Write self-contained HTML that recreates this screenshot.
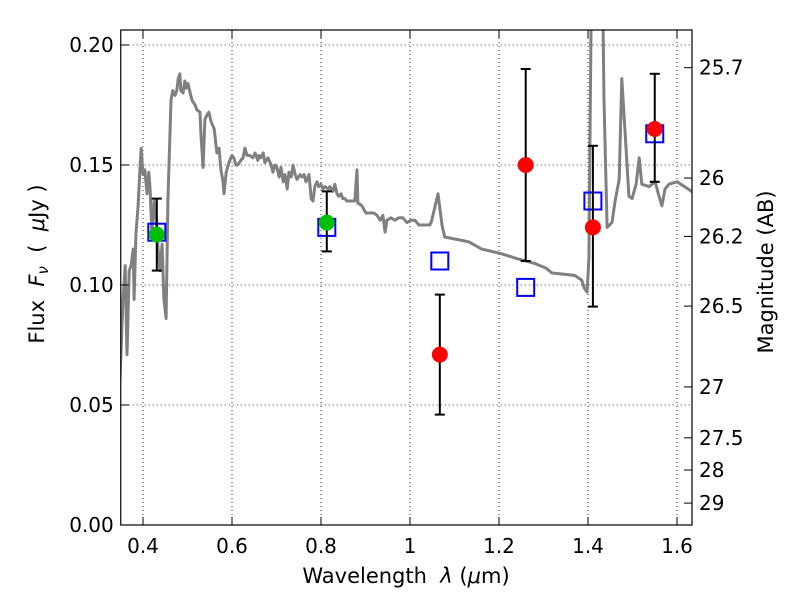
<!DOCTYPE html>
<html><head><meta charset="utf-8"><style>
body{margin:0;background:#fff;}
svg text{font-family:"DejaVu Sans","Liberation Sans",sans-serif;font-size:20px;fill:#000;}
.ttl{white-space:pre;font-size:21px;}
</style></head><body>
<svg id="chart" width="800" height="600" xmlns="http://www.w3.org/2000/svg"></svg>
<script>
const specLam=[0.348,0.355,0.360,0.364,0.369,0.373,0.378,0.380,0.384,0.389,0.393,0.396,0.400,0.404,0.409,0.413,0.416,0.420,0.425,0.429,0.434,0.438,0.443,0.447,0.452,0.456,0.463,0.467,0.472,0.476,0.479,0.483,0.485,0.490,0.494,0.497,0.501,0.506,0.510,0.517,0.521,0.528,0.530,0.535,0.539,0.544,0.548,0.553,0.560,0.566,0.571,0.575,0.580,0.582,0.587,0.593,0.600,0.604,0.609,0.613,0.620,0.625,0.629,0.634,0.640,0.647,0.652,0.658,0.661,0.665,0.670,0.674,0.681,0.688,0.692,0.697,0.701,0.706,0.710,0.715,0.719,0.724,0.728,0.733,0.737,0.742,0.746,0.753,0.757,0.762,0.766,0.773,0.778,0.782,0.786,0.791,0.795,0.800,0.804,0.809,0.816,0.820,0.827,0.831,0.836,0.840,0.845,0.849,0.854,0.858,0.867,0.876,0.881,0.883,0.885,0.892,0.901,0.910,0.919,0.926,0.933,0.939,0.944,0.948,0.957,0.966,0.975,0.984,0.993,1.002,1.011,1.020,1.029,1.038,1.045,1.049,1.063,1.072,1.078,1.105,1.132,1.161,1.206,1.240,1.280,1.306,1.319,1.370,1.386,1.391,1.398,1.402,1.404,1.409,1.431,1.436,1.443,1.454,1.461,1.470,1.476,1.483,1.492,1.499,1.508,1.515,1.521,1.537,1.551,1.558,1.566,1.573,1.582,1.600,1.625,1.641];
const specFlux=[0.060,0.094,0.108,0.071,0.106,0.108,0.115,0.094,0.121,0.133,0.148,0.157,0.146,0.148,0.138,0.147,0.140,0.121,0.135,0.129,0.115,0.106,0.117,0.094,0.086,0.135,0.177,0.181,0.179,0.181,0.186,0.188,0.181,0.180,0.185,0.182,0.184,0.180,0.177,0.175,0.173,0.172,0.163,0.149,0.169,0.171,0.172,0.168,0.165,0.155,0.157,0.148,0.143,0.138,0.147,0.151,0.154,0.153,0.150,0.150,0.152,0.153,0.157,0.154,0.154,0.153,0.155,0.152,0.154,0.153,0.155,0.151,0.153,0.150,0.147,0.150,0.149,0.145,0.149,0.143,0.146,0.140,0.147,0.145,0.150,0.146,0.144,0.146,0.145,0.146,0.143,0.146,0.136,0.135,0.141,0.143,0.141,0.142,0.140,0.141,0.140,0.141,0.139,0.142,0.138,0.137,0.138,0.136,0.136,0.135,0.135,0.135,0.148,0.134,0.134,0.133,0.130,0.130,0.130,0.129,0.127,0.129,0.122,0.127,0.128,0.127,0.128,0.128,0.126,0.127,0.127,0.125,0.125,0.125,0.125,0.127,0.138,0.125,0.120,0.119,0.118,0.115,0.113,0.111,0.109,0.107,0.105,0.104,0.102,0.099,0.097,0.111,0.153,0.25,0.25,0.177,0.124,0.126,0.135,0.144,0.186,0.165,0.137,0.136,0.142,0.153,0.142,0.141,0.143,0.138,0.133,0.140,0.142,0.143,0.140,0.138];
const greenLam=[0.431,0.813], greenFlux=[0.121,0.126], greenLo=[0.106,0.114], greenHi=[0.136,0.139];
const redLam=[1.067,1.260,1.411,1.550], redFlux=[0.071,0.150,0.124,0.165], redLo=[0.046,0.110,0.091,0.143], redHi=[0.096,0.190,0.158,0.188];
const modelLam=[0.431,0.813,1.067,1.260,1.411,1.550], modelFlux=[0.122,0.124,0.110,0.099,0.135,0.163];
const xTicks=[0.4,0.6,0.8,1.0,1.2,1.4,1.6], xTickLabels=["0.4","0.6","0.8","1","1.2","1.4","1.6"];
const yTicks=[0,0.05,0.10,0.15,0.20], yTickLabels=["0.00","0.05","0.10","0.15","0.20"];
const magTicks=[25.7,26,26.2,26.5,27,27.5,28,29], magTickLabels=["25.7","26","26.2","26.5","27","27.5","28","29"];

const L=120.75,R=692,T=30,B=525, XMIN=0.35, YMIN=0, YMAX=(B-T)/2400;
const XMAX=XMIN+(R-L)/445;
const X=v=>L+(v-XMIN)/(XMAX-XMIN)*(R-L);
const Y=v=>B-(v-YMIN)/(YMAX-YMIN)*(B-T);
const svg=document.getElementById('chart');
const NS='http://www.w3.org/2000/svg';
function mk(tag,attrs,parent){const e=document.createElementNS(NS,tag);for(const k in attrs)e.setAttribute(k,attrs[k]);(parent||svg).appendChild(e);return e;}

const defs=mk('defs',{});
const cp=mk('clipPath',{id:'clip'},defs);
mk('rect',{x:L,y:T,width:R-L,height:B-T},cp);

xTicks.forEach(v=>{const g=mk('line',{x1:X(v),x2:X(v),y1:T,y2:B,stroke:'#000','stroke-width':0.8,'stroke-dasharray':'1,3'});

});
yTicks.forEach(v=>{const g=mk('line',{x1:L,x2:R,y1:Y(v),y2:Y(v),stroke:'#000','stroke-width':0.8,'stroke-dasharray':'1,3'});

});

const gp=mk('g',{'clip-path':'url(#clip)'});
const pts=specLam.map((l,i)=>X(l).toFixed(1)+','+Y(specFlux[i]).toFixed(1)).join(' ');
const sp=mk('polyline',{points:pts,fill:'none',stroke:'#808080','stroke-width':3,'stroke-linejoin':'round'},gp);



modelLam.forEach((l,i)=>{const s=mk('rect',{x:X(l)-8.5,y:Y(modelFlux[i])-8.5,width:17,height:17,fill:'none',stroke:'#0000ff','stroke-width':2});

});

function errPoints(lams,flux,lo,hi,color,name){
 lams.forEach((l,i)=>{const x=X(l);
  const g=mk('g',{});
  
  
  mk('line',{x1:x,x2:x,y1:Y(lo[i]),y2:Y(hi[i]),stroke:'#000','stroke-width':2},g);
  mk('line',{x1:x-5,x2:x+5,y1:Y(lo[i]),y2:Y(lo[i]),stroke:'#000','stroke-width':2},g);
  mk('line',{x1:x-5,x2:x+5,y1:Y(hi[i]),y2:Y(hi[i]),stroke:'#000','stroke-width':2},g);
  const c=mk('circle',{cx:x,cy:Y(flux[i]),r:8,fill:color});
  
  
 });
}
errPoints(greenLam,greenFlux,greenLo,greenHi,'#00bf00','detection');
errPoints(redLam,redFlux,redLo,redHi,'#ff0000','nir-measurement');

const fr=mk('rect',{x:L,y:T,width:R-L,height:B-T,fill:'none',stroke:'#000','stroke-width':1.2});



xTicks.forEach((v,i)=>{const x=X(v);
 mk('line',{x1:x,x2:x,y1:B,y2:B-8,stroke:'#000','stroke-width':1});
 mk('line',{x1:x,x2:x,y1:T,y2:T+8,stroke:'#000','stroke-width':1});
 const t=mk('text',{x:x,y:B+28,'text-anchor':'middle'});t.textContent=xTickLabels[i];
 
 });
yTicks.forEach((v,i)=>{const y=Y(v);
 mk('line',{x1:L,x2:L+8,y1:y,y2:y,stroke:'#000','stroke-width':1});
 const t=mk('text',{x:L-7,y:y+7,'text-anchor':'end'});t.textContent=yTickLabels[i];
 
 });
magTicks.forEach((m,i)=>{const y=Y(Math.pow(10,(23.9-m)/2.5));
 mk('line',{x1:R-8,x2:R,y1:y,y2:y,stroke:'#000','stroke-width':1});
 const t=mk('text',{x:R+7,y:y+7,'text-anchor':'start'});t.textContent=magTickLabels[i];
 
 });
</script>
<svg width="800" height="600" style="position:absolute;left:0;top:0;pointer-events:none" xmlns="http://www.w3.org/2000/svg">
<text class="ttl" x="406" y="583" text-anchor="middle">Wavelength  <tspan font-style="italic">λ</tspan> (<tspan font-style="italic">μ</tspan>m)</text>
<text class="ttl" transform="translate(44,264) rotate(-90)" text-anchor="middle">Flux  <tspan font-style="italic">F</tspan><tspan font-style="italic" font-size="15" dy="4">ν</tspan><tspan dy="-4">  (  </tspan><tspan font-style="italic">μ</tspan>Jy )</text>
<text class="ttl" transform="translate(773,272) rotate(-90)" text-anchor="middle">Magnitude (AB)</text>
</svg>
</body></html>
